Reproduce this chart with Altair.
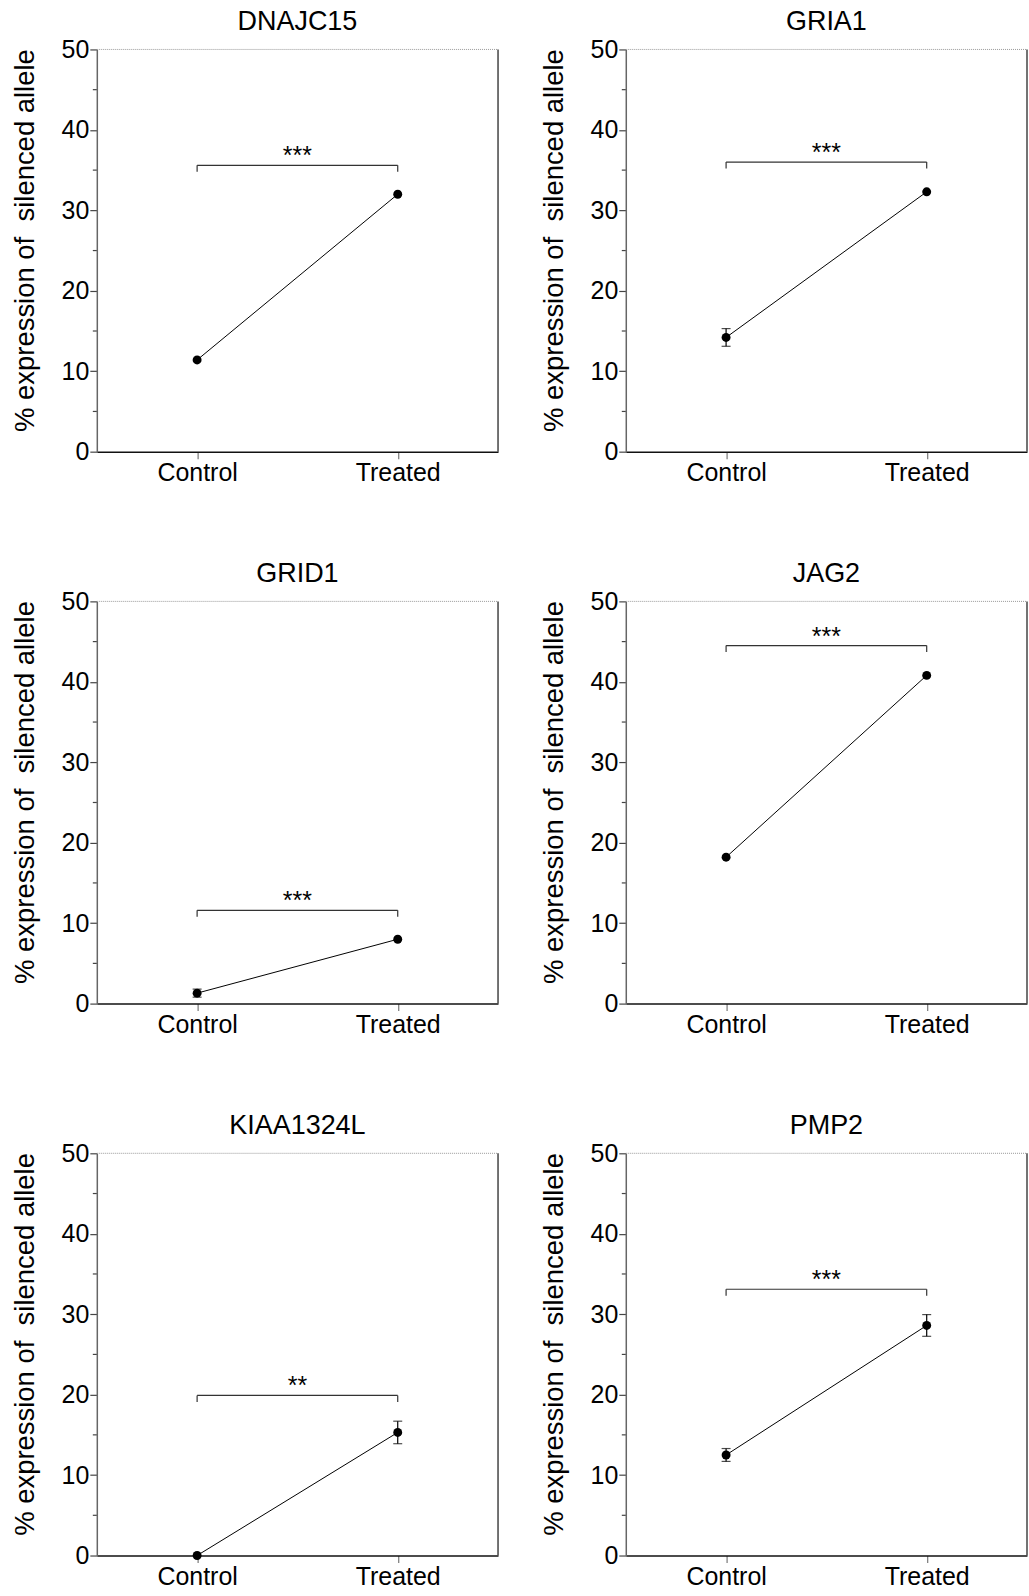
import altair as alt
import pandas as pd

# ---- data ----
genes = ["DNAJC15", "GRIA1", "GRID1", "JAG2", "KIAA1324L", "PMP2"]
groups = ["Control", "Treated"]
control_mean = [11.4, 14.2, 1.3, 18.2, 0.0, 12.5]
control_sem = [0.0, 1.1, 0.5, 0.0, 0.0, 0.8]
treated_mean = [32.0, 32.3, 8.0, 40.8, 15.3, 28.6]
treated_sem = [0.0, 0.0, 0.0, 0.0, 1.4, 1.35]
bracket_level = [35.6, 36.0, 11.6, 44.5, 19.9, 33.1]
bracket_drop = 0.8
significance = ["***", "***", "***", "***", "**", "***"]
y_major = [0, 10, 20, 30, 40, 50]
y_minor = [5, 15, 25, 35, 45]
y_title = "% expression of\u00a0 silenced allele"

FONT = "Liberation Sans"
W, H = 402, 403
x_domain = [-0.5, 1.5]
y_domain = [0, 50]
label_expr = "[" + ",".join("'%s'" % g for g in groups) + "][datum.value]"

xsc = alt.Scale(domain=x_domain, nice=False, zero=False)
ysc = alt.Scale(domain=y_domain, nice=False, zero=False)
x_axis = alt.Axis(values=[0, 1], labelExpr=label_expr, title=None, grid=False,
                  domainColor="#111111", domainWidth=1.5, tickColor="#777777",
                  tickWidth=1.2, tickSize=7, labelPadding=2)
y_axis = alt.Axis(values=y_major, title=y_title, grid=False, domainColor="#666666",
                  domainWidth=1.5, tickColor="#444444", tickWidth=1.2, tickSize=7,
                  labelPadding=1, titlePadding=22, titleY=191)


def X(f):
    return alt.X(f, scale=xsc, axis=x_axis)


def Y(f):
    return alt.Y(f, scale=ysc, axis=y_axis)


def panel(i):
    pts = pd.DataFrame({
        "pos": [0, 1],
        "group": groups,
        "mean": [control_mean[i], treated_mean[i]],
        "sem": [control_sem[i], treated_sem[i]],
    })
    pts["lo"] = pts["mean"] - pts["sem"]
    pts["hi"] = pts["mean"] + pts["sem"]
    err = pts[pts["sem"] > 0]

    base = alt.Chart(pts)
    line = base.mark_line(color="black", strokeWidth=1).encode(x=X("pos:Q"), y=Y("mean:Q"))
    dots = base.mark_circle(color="black", size=80, opacity=1).encode(x=X("pos:Q"), y=Y("mean:Q"))
    layers = [line]
    if len(err) > 0:
        e = alt.Chart(err)
        bar = e.mark_rule(color="black", strokeWidth=1.2).encode(x=X("pos:Q"), y=Y("lo:Q"), y2="hi:Q")
        cap_lo = e.mark_tick(color="black", orient="horizontal", size=9, thickness=1.2).encode(
            x=X("pos:Q"), y=Y("lo:Q"))
        cap_hi = e.mark_tick(color="black", orient="horizontal", size=9, thickness=1.2).encode(
            x=X("pos:Q"), y=Y("hi:Q"))
        layers += [bar, cap_lo, cap_hi]
    layers.append(dots)

    br = pd.DataFrame({"x0": [0], "x1": [1], "y": [bracket_level[i]], "s": [significance[i]],
                       "xm": [0.5]})
    legs = pd.DataFrame({"pos": [0, 1], "y": [bracket_level[i]] * 2,
                         "y2": [bracket_level[i] - bracket_drop] * 2})
    bracket = alt.Chart(br).mark_rule(color="#333333", strokeWidth=1.2).encode(
        x=X("x0:Q"), x2="x1:Q", y=Y("y:Q"))
    leg = alt.Chart(legs).mark_rule(color="#333333", strokeWidth=1.2).encode(
        x=X("pos:Q"), y=Y("y:Q"), y2="y2:Q")
    star = alt.Chart(br).mark_text(font=FONT, fontSize=25, color="black", baseline="alphabetic",
                                   dy=-1).encode(x=X("xm:Q"), y=Y("y:Q"), text="s:N")

    minor = alt.Chart(pd.DataFrame({"v": y_minor})).mark_rule(color="#444444", strokeWidth=1.2).encode(
        x=alt.value(-4), x2=alt.value(0), y=Y("v:Q"))
    frame_top = alt.Chart(pd.DataFrame({"a": [x_domain[0]], "b": [x_domain[1]], "y": [y_domain[1]]})).mark_rule(
        color="#999999", strokeWidth=1, strokeDash=[1, 1]).encode(x=X("a:Q"), x2="b:Q", y=Y("y:Q"))
    frame_right = alt.Chart(pd.DataFrame({"x": [x_domain[1]], "a": [y_domain[0]], "b": [y_domain[1]]})).mark_rule(
        color="#444444", strokeWidth=1.5).encode(x=X("x:Q"), y=Y("a:Q"), y2="b:Q")
    layers += [bracket, leg, star, minor, frame_top, frame_right]
    return alt.layer(*layers).properties(
        width=W, height=H,
        title=alt.TitleParams(genes[i], font=FONT, fontSize=27, fontWeight="normal",
                              color="black", offset=1),
    )


rows = []
for r in range(3):
    rows.append(alt.hconcat(panel(2 * r), panel(2 * r + 1), spacing=39))
chart = alt.vconcat(*rows, spacing=73).configure_view(stroke="transparent").configure_axis(
    labelFont=FONT, labelFontSize=25, labelColor="black",
    titleFont=FONT, titleFontSize=27.5, titleFontWeight="normal", titleColor="black",
).properties(padding={"left": 10, "top": 6, "right": 0, "bottom": 0})

chart.save("out.html", embed_options={"renderer": "svg", "actions": False})
